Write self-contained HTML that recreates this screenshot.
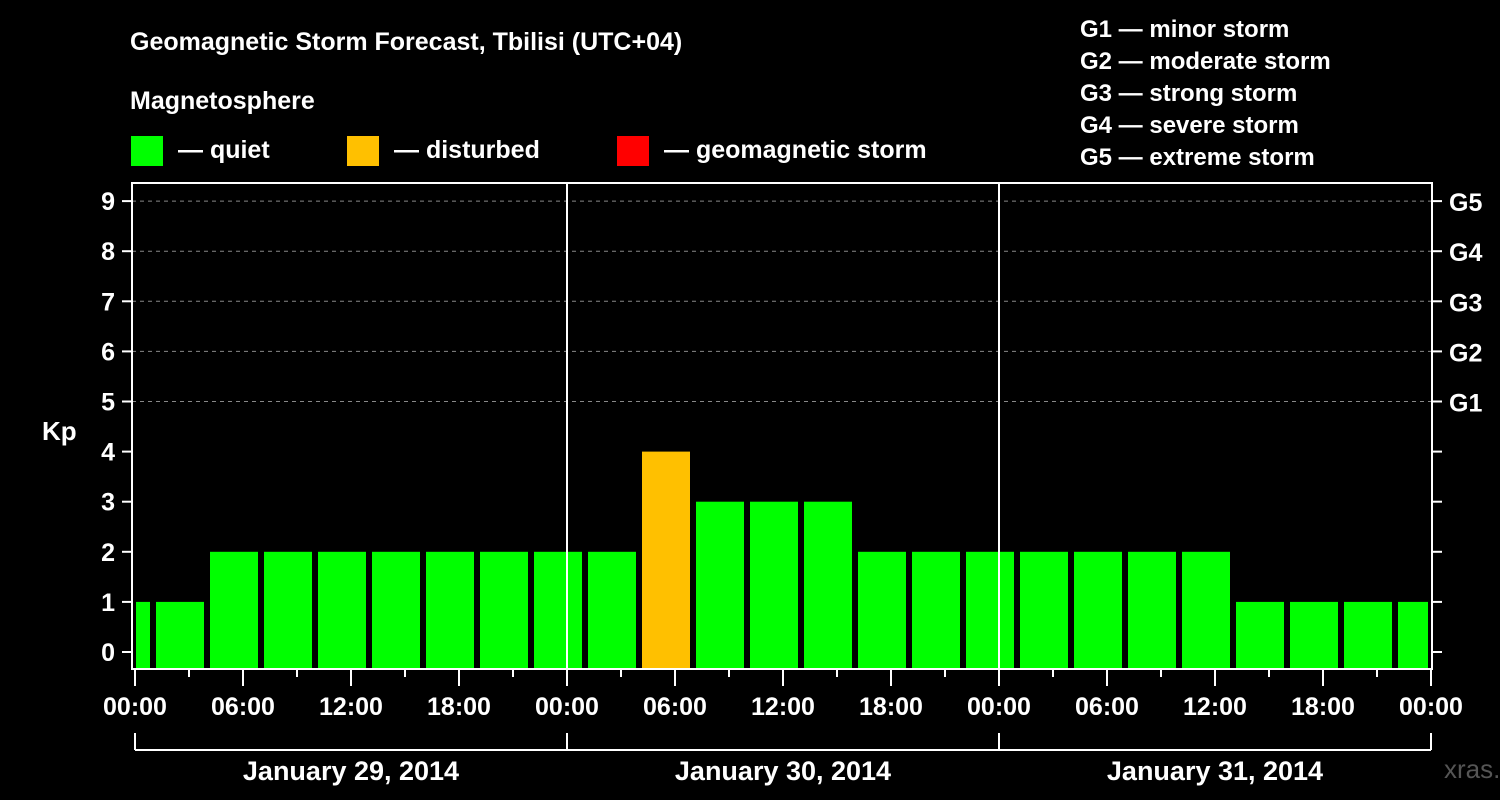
<!DOCTYPE html>
<html><head><meta charset="utf-8"><style>
body{margin:0;background:#000;width:1500px;height:800px;overflow:hidden}
svg{display:block;font-family:"Liberation Sans",sans-serif;font-weight:bold}
</style></head><body>
<svg id="c" width="1500" height="800">
<text x="130" y="50" fill="#fff" font-size="25">Geomagnetic Storm Forecast, Tbilisi (UTC+04)</text>
<text x="130" y="109" fill="#fff" font-size="25">Magnetosphere</text>
<g><rect x="131" y="136" width="32" height="30" fill="#00ff00"/><text x="178" y="158" fill="#fff" font-size="25">— quiet</text></g>
<g><rect x="347" y="136" width="32" height="30" fill="#ffc000"/><text x="394" y="158" fill="#fff" font-size="25">— disturbed</text></g>
<g><rect x="617" y="136" width="32" height="30" fill="#ff0000"/><text x="664" y="158" fill="#fff" font-size="25">— geomagnetic storm</text></g>
<g fill="#fff" font-size="24">
<text x="1080" y="37">G1 — minor storm</text><text x="1080" y="69">G2 — moderate storm</text><text x="1080" y="101">G3 — strong storm</text><text x="1080" y="133">G4 — severe storm</text><text x="1080" y="165">G5 — extreme storm</text></g>
<text x="42" y="440" fill="#fff" font-size="26">Kp</text>
<text x="1444" y="778" fill="#555" font-size="26" font-weight="normal">xras.ru</text>
<g id="plot"></g>
</svg>
<script>
const startHours=[-2,1,4,7,10,13,16,19,22,25,28,31,34,37,40,43,46,49,52,55,58,61,64,67,70];
const kpValues=[1,1,2,2,2,2,2,2,2,2,4,3,3,3,2,2,2,2,2,2,2,1,1,1,1];
const yTicks=[0,1,2,3,4,5,6,7,8,9];
const gLabels=["","","","","","G1","G2","G3","G4","G5"];
const xTickLabels=["00:00","06:00","12:00","18:00","00:00","06:00","12:00","18:00","00:00","06:00","12:00","18:00","00:00"];
const dayLabels=["January 29, 2014","January 30, 2014","January 31, 2014"];
const NS="http://www.w3.org/2000/svg";
const L=132,R=1432,T=183,B=669,X0=135,PXH=18;
const xs=h=>X0+h*PXH, ys=v=>652-v*50.1;
const g=document.getElementById('plot');
function mk(t,a,p){const e=document.createElementNS(NS,t);for(const k in a)e.setAttribute(k,a[k]);(p||g).appendChild(e);return e;}
// grid
yTicks.forEach(v=>{if(v>=5){const l=mk('line',{x1:L,x2:R,y1:ys(v),y2:ys(v),stroke:'#888','stroke-dasharray':'4,4','stroke-width':1});

}});
// bars
startHours.forEach((h,i)=>{const v=kpValues[i];let x1=Math.max(xs(h)+3,L+4),x2=Math.min(xs(h+3)-3,R-4);
const c=v>=5?'#ff0000':v>=4?'#ffc000':'#00ff00';
const r=mk('rect',{x:x1,y:ys(v),width:x2-x1,height:B-1-ys(v),fill:c});

});
// day separators
[24,48].forEach(h=>{const l=mk('line',{x1:xs(h),x2:xs(h),y1:T,y2:B,stroke:'#fff','stroke-width':2});

});
// frame
const f=mk('rect',{x:L,y:T,width:R-L,height:B-T,fill:'none',stroke:'#fff','stroke-width':2});


// y ticks
yTicks.forEach((v,i)=>{const y=ys(v);
mk('line',{x1:122,x2:L,y1:y,y2:y,stroke:'#fff','stroke-width':2});
mk('line',{x1:R,x2:1442,y1:y,y2:y,stroke:'#fff','stroke-width':2});
const t=mk('text',{x:115,y:y+9,fill:'#fff','font-size':25,'text-anchor':'end'});t.textContent=v;


if(gLabels[i]){const t2=mk('text',{x:1449,y:y+10,fill:'#fff','font-size':25});t2.textContent=gLabels[i];

}});
// x ticks
for(let h=0;h<=72;h+=3){const major=h%6==0;mk('line',{x1:xs(h),x2:xs(h),y1:B,y2:major?686:677,stroke:'#fff','stroke-width':2});}
xTickLabels.forEach((s,i)=>{const t=mk('text',{x:xs(i*6),y:715,fill:'#fff','font-size':25,'text-anchor':'middle'});t.textContent=s;

});
// day bracket
mk('line',{x1:xs(0),x2:xs(72),y1:750,y2:750,stroke:'#fff','stroke-width':2});
[0,24,48,72].forEach(h=>mk('line',{x1:xs(h),x2:xs(h),y1:733,y2:750,stroke:'#fff','stroke-width':2}));
dayLabels.forEach((s,i)=>{const t=mk('text',{x:xs(i*24+12),y:780,fill:'#fff','font-size':27,'text-anchor':'middle'});t.textContent=s;

});
</script>
</body></html>
